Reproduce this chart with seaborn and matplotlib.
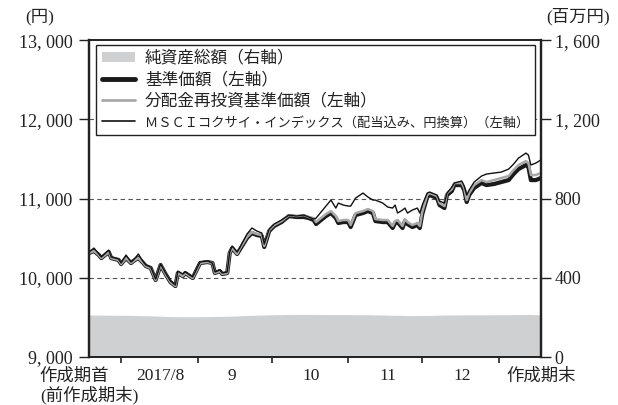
import matplotlib
matplotlib.use("Agg")
import matplotlib.pyplot as plt
import matplotlib.dates as mdates
from matplotlib.lines import Line2D
from matplotlib.patches import Patch
from matplotlib.ticker import FixedLocator, FuncFormatter, NullFormatter
import pandas as pd
import seaborn as sns

# daily series
dates = [
    "2017-07-19", "2017-07-21", "2017-07-23", "2017-07-24", "2017-07-27", "2017-07-28",
    "2017-07-31", "2017-08-01", "2017-08-03", "2017-08-05", "2017-08-06", "2017-08-08",
    "2017-08-10", "2017-08-11", "2017-08-13", "2017-08-15", "2017-08-17", "2017-08-19",
    "2017-08-21", "2017-08-23", "2017-08-24", "2017-08-26", "2017-08-27", "2017-08-30",
    "2017-09-02", "2017-09-05", "2017-09-07", "2017-09-08", "2017-09-10", "2017-09-11",
    "2017-09-13", "2017-09-14", "2017-09-15", "2017-09-17", "2017-09-18", "2017-09-21",
    "2017-09-23", "2017-09-25", "2017-09-27", "2017-09-28", "2017-09-30", "2017-10-02",
    "2017-10-05", "2017-10-08", "2017-10-11", "2017-10-14", "2017-10-16", "2017-10-18",
    "2017-10-19", "2017-10-21", "2017-10-23", "2017-10-25", "2017-10-27", "2017-10-28",
    "2017-10-30", "2017-11-01", "2017-11-02", "2017-11-04", "2017-11-07", "2017-11-09",
    "2017-11-11", "2017-11-12", "2017-11-15", "2017-11-17", "2017-11-19", "2017-11-20",
    "2017-11-21", "2017-11-23", "2017-11-24", "2017-11-25", "2017-11-27", "2017-11-29",
    "2017-11-30", "2017-12-01", "2017-12-03", "2017-12-04", "2017-12-07", "2017-12-08",
    "2017-12-10", "2017-12-11", "2017-12-13", "2017-12-14", "2017-12-17", "2017-12-18",
    "2017-12-19", "2017-12-20", "2017-12-22", "2017-12-25", "2017-12-27", "2017-12-30",
    "2018-01-02", "2018-01-05", "2018-01-07", "2018-01-09", "2018-01-12", "2018-01-13",
    "2018-01-14", "2018-01-16", "2018-01-18",
]
nav = [
    10312, 10338, 10287, 10249, 10325, 10249, 10224, 10174, 10249, 10186, 10212, 10249,
    10186, 10149, 10123, 9972, 10161, 10047, 9946, 9896, 10060, 10022, 10060, 9997,
    10186, 10199, 10186, 10060, 10085, 10047, 10060, 10312, 10375, 10300, 10350, 10502,
    10565, 10539, 10527, 10388, 10590, 10653, 10703, 10779, 10767, 10767, 10754, 10729,
    10678, 10729, 10779, 10817, 10754, 10691, 10703, 10703, 10640, 10792, 10817, 10842,
    10817, 10716, 10703, 10703, 10628, 10691, 10703, 10628, 10716, 10678, 10640, 10666,
    10628, 10804, 11019, 11044, 11006, 10918, 10880, 11044, 11095, 11170, 11170, 11107,
    10956, 11044, 11133, 11196, 11170, 11183, 11208, 11233, 11309, 11372, 11423, 11398,
    11233, 11233, 11259,
]
nav_reinvest = [
    10312, 10338, 10287, 10249, 10325, 10249, 10224, 10174, 10249, 10186, 10212, 10249,
    10186, 10149, 10123, 9972, 10161, 10047, 9946, 9896, 10060, 10022, 10060, 9997,
    10186, 10199, 10186, 10060, 10085, 10047, 10060, 10312, 10375, 10300, 10363, 10514,
    10577, 10552, 10539, 10401, 10603, 10666, 10716, 10792, 10779, 10792, 10767, 10754,
    10703, 10754, 10804, 10842, 10779, 10716, 10729, 10729, 10666, 10817, 10842, 10868,
    10842, 10741, 10729, 10729, 10653, 10716, 10729, 10653, 10741, 10703, 10666, 10691,
    10653, 10830, 11044, 11069, 11032, 10943, 10905, 11069, 11120, 11196, 11196, 11133,
    10981, 11069, 11170, 11233, 11208, 11233, 11259, 11284, 11360, 11423, 11473, 11448,
    11297, 11297, 11322,
]
msci = [
    10325, 10375, 10300, 10262, 10350, 10262, 10237, 10186, 10287, 10199, 10224, 10300,
    10199, 10161, 10136, 9984, 10174, 10060, 9959, 9909, 10085, 10047, 10073, 10010,
    10199, 10212, 10186, 10073, 10098, 10060, 10073, 10325, 10401, 10325, 10375, 10552,
    10628, 10590, 10565, 10426, 10615, 10678, 10729, 10792, 10779, 10792, 10767, 10741,
    10754, 10830, 10905, 10981, 10880, 10943, 10918, 10905, 10905, 11006, 11069, 11019,
    10981, 10981, 10943, 10893, 10880, 10918, 10817, 10855, 10880, 10817, 10855, 10880,
    10817, 10918, 11069, 11082, 11044, 10968, 10943, 11069, 11145, 11196, 11221, 11158,
    11044, 11107, 11208, 11284, 11309, 11322, 11334, 11372, 11435, 11511, 11574, 11549,
    11423, 11448, 11486,
]

# net assets (right axis, million yen)
na_dates = [
    "2017-07-19", "2017-07-28", "2017-08-05", "2017-08-13", "2017-08-21", "2017-08-29",
    "2017-09-06", "2017-09-14", "2017-09-22", "2017-09-30", "2017-10-09", "2017-10-17",
    "2017-10-25", "2017-11-02", "2017-11-10", "2017-11-18", "2017-11-26", "2017-12-04",
    "2017-12-12", "2017-12-21", "2017-12-29", "2018-01-06", "2018-01-14", "2018-01-18",
]
net_assets = [
    212, 211, 210, 208, 204, 203, 204, 206, 210, 213, 215, 215,
    214, 214, 213, 211, 209, 210, 212, 213, 213, 214, 215, 213,
]

month_starts = ["2017-08-01", "2017-09-01", "2017-10-01", "2017-11-01", "2017-12-01", "2018-01-01"]
label_pos = ["2017-07-19", "2017-08-17", "2017-09-15", "2017-10-17", "2017-11-17", "2017-12-17", "2018-01-18"]
label_txt = ["作成期首\n(前作成期末)", "2017/8", "9", "10", "11", "12", "作成期末"]

legend_labels = [
    "純資産総額（右軸）",
    "基準価額（左軸）",
    "分配金再投資基準価額（左軸）",
    "ＭＳＣＩコクサイ・インデックス（配当込み、円換算）（左軸）",
]

df = pd.DataFrame({
    "date": pd.to_datetime(dates),
    "nav": nav,
    "reinvest": nav_reinvest,
    "msci": msci,
})
na = pd.DataFrame({"date": pd.to_datetime(na_dates), "assets": net_assets})

sns.set_theme(style="white")
plt.rcParams["font.family"] = ["Liberation Serif", "Noto Sans CJK JP", "DejaVu Sans"]

fig = plt.figure(figsize=(6.18, 4.05), dpi=100)
ax = fig.add_axes([0.144, 0.1185, 0.731, 0.7825])
ax2 = ax.twinx()
ax.set_zorder(ax2.get_zorder() + 1)
ax.patch.set_visible(False)

fill_color = "#cfd0d2"
ax2.fill_between(na["date"], na["assets"], color=fill_color, lw=0)
ax2.set_ylim(0, 1600)
ax2.set_yticks([0, 400, 800, 1200, 1600])

sns.lineplot(data=df, x="date", y="nav", ax=ax, color="#1a1a1a", lw=3.0, legend=False)
sns.lineplot(data=df, x="date", y="reinvest", ax=ax, color="#a8a8a8", lw=1.8, legend=False)
sns.lineplot(data=df, x="date", y="msci", ax=ax, color="#111111", lw=1.0, legend=False)

ax.set_ylim(9000, 13000)
ax.set_yticks([9000, 10000, 11000, 12000, 13000])
ax.set_xlim(pd.Timestamp(dates[0]), pd.Timestamp(dates[-1]))
for v in [10000, 11000, 12000]:
    ax.axhline(v, color="#555555", lw=0.8, ls=(0, (4, 3)), zorder=0.5)

fmt = FuncFormatter(lambda v, p: f"{int(v):,}".replace(",", ", "))
ax.yaxis.set_major_formatter(fmt)
ax2.yaxis.set_major_formatter(fmt)

ax.xaxis.set_major_locator(FixedLocator(mdates.date2num(pd.to_datetime(month_starts))))
ax.xaxis.set_major_formatter(NullFormatter())
ax.xaxis.set_minor_locator(FixedLocator(mdates.date2num(pd.to_datetime(label_pos))))
ax.set_xticklabels(label_txt, minor=True)
for t in ax.get_xticklabels(minor=True):
    t.set_multialignment("left")
    t.set_linespacing(1.1)

ax.tick_params(axis="x", which="major", direction="out", length=4, width=1.2, color="#222222", bottom=True)
ax.tick_params(axis="x", which="minor", length=0, pad=8, labelsize=12.5, labelcolor="#222222")
ax.tick_params(axis="y", direction="out", length=7, width=1, color="#222222", left=True,
               labelsize=13, labelcolor="#222222", pad=5)
ax2.tick_params(axis="y", direction="out", length=7, width=1, color="#222222", right=True,
                labelsize=13, labelcolor="#222222", pad=3)
ax.set_xlabel("")
ax.set_ylabel("")
ax2.set_ylabel("")

for a in (ax, ax2):
    for side, sp in a.spines.items():
        sp.set_color("#222222")
        sp.set_linewidth(1.6 if side in ("left", "right") else 1.2)

handles = [
    Patch(facecolor=fill_color, edgecolor="none"),
    Line2D([], [], color="#1a1a1a", lw=3.5),
    Line2D([], [], color="#a8a8a8", lw=2.0),
    Line2D([], [], color="#111111", lw=1.2),
]
leg = ax.legend(handles, legend_labels, loc="upper left", bbox_to_anchor=(0.015, 0.985),
                borderaxespad=0, fontsize=12, frameon=True, fancybox=False,
                edgecolor="#222222", framealpha=1, handlelength=2.0, handleheight=0.6,
                handletextpad=0.6, labelspacing=0.33, borderpad=0.35)
leg.get_frame().set_linewidth(1.0)
leg.get_texts()[3].set_fontsize(9.5)
for t in leg.get_texts():
    t.set_color("#222222")

fig.text(0.065, 0.958, "(円)", fontsize=12.5, ha="center", va="center", color="#222222")
fig.text(0.935, 0.958, "(百万円)", fontsize=12.5, ha="center", va="center", color="#222222")

fig.savefig("out.png", dpi=100)
